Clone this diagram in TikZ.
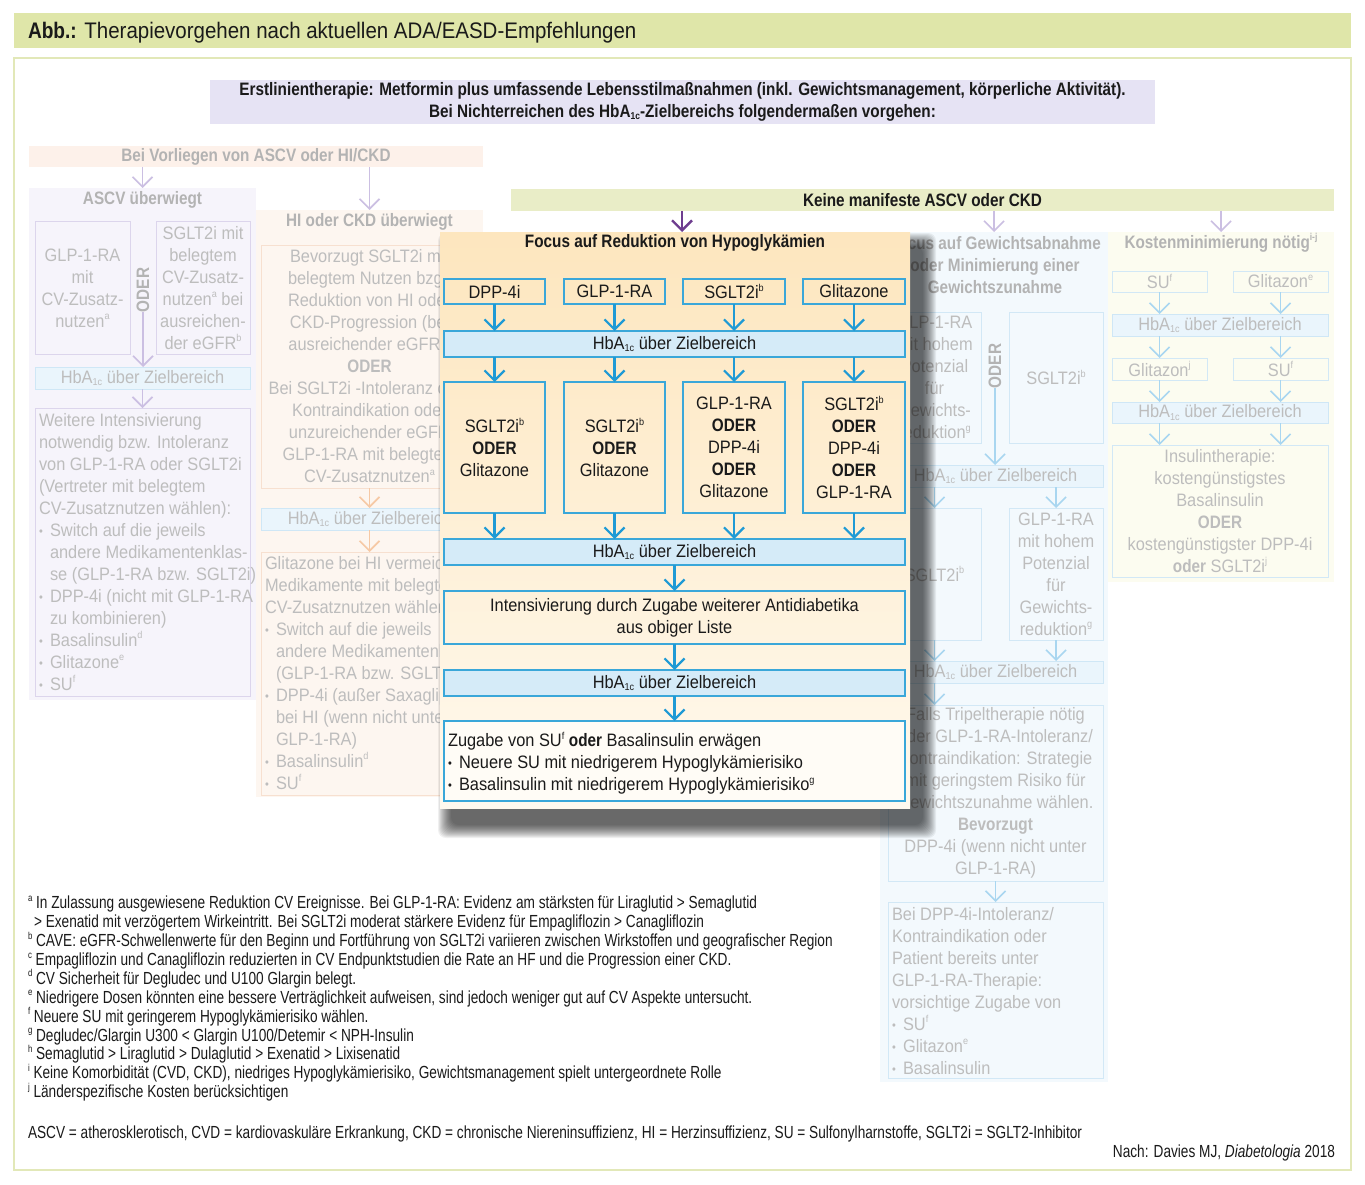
\documentclass[tikz,border=0pt]{standalone}
\usepackage{fontspec}
\setmainfont{Liberation Sans}[UprightFeatures={FakeStretch=0.91}, BoldFeatures={FakeStretch=0.85}, ItalicFeatures={FakeStretch=0.91}, BoldItalicFeatures={FakeStretch=0.85}]
\newfontfamily\fnfont{Liberation Sans}[UprightFeatures={FakeStretch=0.78}, ItalicFeatures={FakeStretch=0.78}]
\usetikzlibrary{arrows.meta}
\definecolor{titlebarc}{HTML}{DFE6A9}
\definecolor{framec}{HTML}{E2E8B8}
\definecolor{erstc}{HTML}{E6E3F4}
\definecolor{vorlc}{HTML}{FDF1EA}
\definecolor{keinec}{HTML}{E9EDC7}
\definecolor{ascvc}{HTML}{F6F4FB}
\definecolor{ascvl}{HTML}{DCD5EC}
\definecolor{ascva}{HTML}{CBBFE2}
\definecolor{hic}{HTML}{FDF6F0}
\definecolor{hil}{HTML}{F7E0D0}
\definecolor{hia}{HTML}{F6C9A5}
\definecolor{focc}{HTML}{F3F9FD}
\definecolor{focl}{HTML}{D2E8F6}
\definecolor{foca}{HTML}{A9D6F0}
\definecolor{kosc}{HTML}{FCFCF0}
\definecolor{hbfc}{HTML}{EAF5FC}
\definecolor{hbfl}{HTML}{CFE7F6}
\definecolor{fadet}{HTML}{BDBDBD}
\definecolor{fadeb}{HTML}{B3B3B3}
\definecolor{bluel}{HTML}{3AA7D9}
\definecolor{bluea}{HTML}{1F9AD5}
\definecolor{hbc}{HTML}{D5EBF8}
\definecolor{purp}{HTML}{6E3D8F}
\definecolor{centop}{HTML}{FDE6BE}
\definecolor{cenbot}{HTML}{FFF9EE}
\definecolor{zugc}{HTML}{FFFCF6}
\definecolor{txt}{HTML}{1A1A1A}
\newcommand\supx[1]{\raisebox{0.42em}{\fontsize{10}{10}\selectfont #1}}
\newcommand\subx[1]{\raisebox{-0.12em}{\fontsize{10}{10}\selectfont #1}}
\newcommand\hba{HbA\subx{1c} über Zielbereich}
\newcommand\bul{\makebox[11pt][l]{\raisebox{1pt}{\fontsize{12}{12}\selectfont\textbullet}}}
\newcommand\ind{\hspace*{11pt}}
\newcommand\rbox[7]{\node[#6, minimum width={(#4-#2)*1pt}, minimum height={(#5-#3)*1pt}] (#1) at ({(#2+#4)/2},{(#3+#5)/2}) {#7};}
\tikzset{
  every node/.style={inner sep=0pt, outer sep=0pt},
  fs/.style={font=\fontsize{18}{22}\selectfont},
  fsb/.style={font=\fontsize{18}{22}\selectfont\bfseries},
  fade/.style={fs, text=fadet},
  fadebold/.style={fsb, text=fadeb},
  fadebox/.style={draw=#1, line width=1pt, fade, align=center},
  hbfade/.style={fill=hbfc, draw=hbfl, line width=1pt, fade},
  cbox/.style={draw=bluel, line width=1.4pt, fs, text=txt, align=center},
  chb/.style={cbox, fill=hbc},
  barr/.style={draw=bluea, line width=2.2pt, -{Straight Barb[length=10pt,width=20pt,line width=2.2pt]}},
  farr/.style={draw=#1, line width=1.6pt, -{Straight Barb[length=10pt,width=20pt,line width=1.6pt]}},
  parr/.style={draw=purp, line width=2.4pt, -{Straight Barb[length=10pt,width=20pt,line width=2.4pt]}},
  fn/.style={font=\fnfont\fontsize{17.5}{18.9}\selectfont, text=txt},
}
\begin{document}
\begin{tikzpicture}[x=1pt, y=-1pt]
\useasboundingbox (0,0) rectangle (1365,1185);
\fill[white] (0,0) rectangle (1365,1185);
% title
\rbox{titlebar}{14}{13}{1351}{48}{fill=titlebarc}{}
\node[anchor=base west, font=\fontsize{22.5}{26}\selectfont, text=txt] (title) at (28,39) {\textbf{Abb.:} Therapievorgehen nach aktuellen ADA/EASD-Empfehlungen};
\rbox{frame}{14}{58}{1351}{1170}{draw=framec, line width=1.2pt}{}
% first line
\rbox{erst}{210}{80}{1155}{124}{fill=erstc, fsb, text=txt, align=center}{Erstlinientherapie: Metformin plus umfassende Lebensstilmaßnahmen (inkl. Gewichtsmanagement, körperliche Aktivität).\\Bei Nichterreichen des HbA\subx{1c}-Zielbereichs folgendermaßen vorgehen:}
% left: ASCV/HI
\rbox{vorl}{29}{146}{483}{167}{fill=vorlc, fadebold}{Bei Vorliegen von ASCV oder HI/CKD}
\rbox{ascv}{29}{188}{256}{700}{fill=ascvc}{}
\node[fadebold] (ascvt) at (142.5,200) {ASCV überwiegt};
\rbox{ascvA}{35}{222}{130}{354}{fadebox=ascvl}{GLP-1-RA\\mit\\CV-Zusatz-\\nutzen\supx{a}}
\rbox{ascvB}{156}{222}{250}{354}{fadebox=ascvl}{SGLT2i mit\\belegtem\\CV-Zusatz-\\nutzen\supx{a} bei\\ausreichen-\\der eGFR\supx{b}}
\node[fadebold, rotate=90] (ascvoder) at (143,290) {ODER};
\rbox{ascvhb}{35}{367}{250}{389}{hbfade}{\hba}
\rbox{ascvW}{35}{408}{250}{696}{fadebox=ascvl}{}
\node[fade, anchor=north west, align=left] (ascvWt) at (39,413) {Weitere Intensivierung\\notwendig bzw. Intoleranz\\von GLP-1-RA oder SGLT2i\\(Vertreter mit belegtem\\CV-Zusatznutzen wählen):\\\bul Switch auf die jeweils\\\ind andere Medikamentenklas-\\\ind se (GLP-1-RA bzw. SGLT2i)\\\bul DPP-4i (nicht mit GLP-1-RA\\\ind zu kombinieren)\\\bul Basalinsulin\supx{d}\\\bul Glitazone\supx{e}\\\bul SU\supx{f}};
\draw[farr=ascva] (vorl.south -| ascv.north) -- (ascv.north);
\draw[farr=ascva] (ascvoder.west) -- (ascvoder.west |- ascvhb.north);
\draw[farr=ascva] (ascvhb.south) -- (ascvW.north);
\rbox{hi}{256}{210}{483}{797}{fill=hic}{}
\node[fadebold] (hit) at (369.5,222) {HI oder CKD überwiegt};
\rbox{hiA}{261}{245}{478}{488}{fadebox=hil}{Bevorzugt SGLT2i mit\\belegtem Nutzen bzgl.\\Reduktion von HI oder\\CKD-Progression (bei\\ausreichender eGFR)\supx{c}\\\textbf{ODER}\\Bei SGLT2i -Intoleranz oder\\Kontraindikation oder\\unzureichender eGFR\\GLP-1-RA mit belegtem\\CV-Zusatznutzen\supx{a}}
\rbox{hihb}{261}{508}{478}{530}{hbfade}{\hba}
\rbox{hiB}{261}{552}{478}{795}{fadebox=hil}{}
\node[fade, anchor=north west, align=left] (hiBt) at (265,556) {Glitazone bei HI vermeiden.\\Medikamente mit belegtem\\CV-Zusatznutzen wählen:\\\bul Switch auf die jeweils\\\ind andere Medikamentenklasse\\\ind (GLP-1-RA bzw. SGLT2i)\\\bul DPP-4i (außer Saxagliptin)\\\ind bei HI (wenn nicht unter\\\ind GLP-1-RA)\\\bul Basalinsulin\supx{d}\\\bul SU\supx{f}};
\draw[farr=ascva] (vorl.south -| hi.north) -- (hi.north);
\draw[farr=hia] (hiA.south) -- (hihb.north);
\draw[farr=hia] (hihb.south) -- (hiB.north);
% right: keine
\rbox{keine}{511}{189}{1334}{211}{fill=keinec, fsb, text=txt}{Keine manifeste ASCV oder CKD}
\rbox{foc}{880}{232}{1108}{1082}{fill=focc}{}
\node[fadebold, align=center] (foct) at (995,265) {Focus auf Gewichtsabnahme\\oder Minimierung einer\\Gewichtszunahme};
\rbox{focA}{888}{312}{981}{443}{fadebox=focl}{GLP-1-RA\\mit hohem\\Potenzial\\für\\Gewichts-\\reduktion\supx{g}}
\rbox{focB}{1009}{312}{1103}{443}{fadebox=focl}{SGLT2i\supx{b}}
\node[fadebold, rotate=90] (focoder) at (995,366) {ODER};
\rbox{fochb1}{888}{465}{1103}{487}{hbfade}{\hba}
\rbox{focC}{888}{508}{981}{640}{fadebox=focl}{SGLT2i\supx{b}}
\rbox{focD}{1009}{508}{1103}{640}{fadebox=focl}{GLP-1-RA\\mit hohem\\Potenzial\\für\\Gewichts-\\reduktion\supx{g}}
\rbox{fochb2}{888}{661}{1103}{683}{hbfade}{\hba}
\rbox{focE}{888}{705}{1103}{881}{fadebox=focl}{Falls Tripeltherapie nötig\\oder GLP-1-RA-Intoleranz/\\Kontraindikation: Strategie\\mit geringstem Risiko für\\Gewichtszunahme wählen.\\\textbf{Bevorzugt}\\DPP-4i (wenn nicht unter\\GLP-1-RA)}
\rbox{focF}{888}{902}{1103}{1078}{fadebox=focl}{}
\node[fade, anchor=north west, align=left] (focFt) at (892,907) {Bei DPP-4i-Intoleranz/\\Kontraindikation oder\\Patient bereits unter\\GLP-1-RA-Therapie:\\vorsichtige Zugabe von\\\bul SU\supx{f}\\\bul Glitazon\supx{e}\\\bul Basalinsulin};
\draw[farr=ascva] (keine.south -| foc.north) -- (foc.north);
\draw[farr=foca] (focoder.west) -- (focoder.west |- fochb1.north);
\draw[farr=foca] (focC.north |- fochb1.south) -- (focC.north);
\draw[farr=foca] (focD.north |- fochb1.south) -- (focD.north);
\draw[farr=foca] (focC.south) -- (focC.south |- fochb2.north);
\draw[farr=foca] (focD.south) -- (focD.south |- fochb2.north);
\draw[farr=foca] (focC.south |- fochb2.south) -- (focC.south |- focE.north);
\draw[farr=foca] (focE.south) -- (focF.north);
% Kosten
\rbox{kos}{1108}{232}{1334}{582}{fill=kosc}{}
\node[fadebold] (kost) at (1221,243) {Kostenminimierung nötig\supx{i-j}};
\rbox{kosA}{1112}{271}{1207}{292}{fadebox=focl}{SU\supx{f}}
\rbox{kosB}{1233}{271}{1328}{292}{fadebox=focl}{Glitazon\supx{e}}
\rbox{koshb1}{1112}{314}{1328}{336}{hbfade}{\hba}
\rbox{kosC}{1112}{358}{1207}{380}{fadebox=focl}{Glitazon\supx{j}}
\rbox{kosD}{1233}{358}{1328}{380}{fadebox=focl}{SU\supx{f}}
\rbox{koshb2}{1112}{402}{1328}{423}{hbfade}{\hba}
\rbox{kosE}{1112}{445}{1328}{577}{fadebox=focl}{Insulintherapie:\\kostengünstigstes\\Basalinsulin\\\textbf{ODER}\\kostengünstigster DPP-4i\\\textbf{oder} SGLT2i\supx{j}}
\draw[farr=ascva] (keine.south -| kos.north) -- (kos.north);
\draw[farr=foca] (kosA.south) -- (kosA.south |- koshb1.north);
\draw[farr=foca] (kosB.south) -- (kosB.south |- koshb1.north);
\draw[farr=foca] (kosC.north |- koshb1.south) -- (kosC.north);
\draw[farr=foca] (kosD.north |- koshb1.south) -- (kosD.north);
\draw[farr=foca] (kosC.south) -- (kosC.south |- koshb2.north);
\draw[farr=foca] (kosD.south) -- (kosD.south |- koshb2.north);
\draw[farr=foca] (kosC.south |- koshb2.south) -- (kosC.south |- kosE.north);
\draw[farr=foca] (kosD.south |- koshb2.south) -- (kosD.south |- kosE.north);
% central box shadow
\foreach \k in {0,...,13} {
  \fill[black, opacity=0.06, rounded corners=8pt] ({438+\k},{233+\k}) rectangle ({936-\k},{838-\k});
}
\rbox{central}{440}{232}{910}{808}{top color=centop, bottom color=cenbot}{}
\node[fsb, text=txt] (cent) at (675,243) {Focus auf Reduktion von Hypoglykämien};
\rbox{c1}{444}{279}{545}{304}{cbox}{DPP-4i}
\rbox{c2}{564}{279}{665}{304}{cbox}{GLP-1-RA}
\rbox{c3}{683}{279}{785}{304}{cbox}{SGLT2i\supx{b}}
\rbox{c4}{803}{279}{905}{304}{cbox}{Glitazone}
\rbox{chb1}{444}{331}{905}{357}{chb}{\hba}
\rbox{r1}{444}{382}{545}{513}{cbox}{SGLT2i\supx{b}\\\textbf{ODER}\\Glitazone}
\rbox{r2}{564}{382}{665}{513}{cbox}{SGLT2i\supx{b}\\\textbf{ODER}\\Glitazone}
\rbox{r3}{683}{382}{785}{513}{cbox}{GLP-1-RA\\\textbf{ODER}\\DPP-4i\\\textbf{ODER}\\Glitazone}
\rbox{r4}{803}{382}{905}{513}{cbox}{SGLT2i\supx{b}\\\textbf{ODER}\\DPP-4i\\\textbf{ODER}\\GLP-1-RA}
\rbox{chb2}{444}{539}{905}{565}{chb}{\hba}
\rbox{cint}{444}{591}{905}{644}{cbox}{Intensivierung durch Zugabe weiterer Antidiabetika\\aus obiger Liste}
\rbox{chb3}{444}{670}{905}{696}{chb}{\hba}
\rbox{czug}{444}{721}{905}{801}{cbox, fill=zugc}{}
\node[fs, text=txt, anchor=north west, align=left] (czugt) at (448,732) {Zugabe von SU\supx{f} \textbf{oder} Basalinsulin erwägen\\\bul Neuere SU mit niedrigerem Hypoglykämierisiko\\\bul Basalinsulin mit niedrigerem Hypoglykämierisiko\supx{g}};
\draw[parr] ([xshift=7pt]central.north |- keine.south) -- ([xshift=7pt]central.north);
\foreach \n in {1,2,3,4} {
  \draw[barr] (c\n.south) -- (c\n.south |- chb1.north);
  \draw[barr] (r\n.north |- chb1.south) -- (r\n.north);
  \draw[barr] (r\n.south) -- (r\n.south |- chb2.north);
}
\draw[barr] (chb2.south) -- (cint.north);
\draw[barr] (cint.south) -- (chb3.north);
\draw[barr] (chb3.south) -- (czug.north);
% footnotes
\node[fn, anchor=north west, align=left] (fnotes) at (28,896) {\supx{a} In Zulassung ausgewiesene Reduktion CV Ereignisse. Bei GLP-1-RA: Evidenz am stärksten für Liraglutid > Semaglutid\\\hspace*{6pt}> Exenatid mit verzögertem Wirkeintritt. Bei SGLT2i moderat stärkere Evidenz für Empagliflozin > Canagliflozin\\\supx{b} CAVE: eGFR-Schwellenwerte für den Beginn und Fortführung von SGLT2i variieren zwischen Wirkstoffen und geografischer Region\\\supx{c} Empagliflozin und Canagliflozin reduzierten in CV Endpunktstudien die Rate an HF und die Progression einer CKD.\\\supx{d} CV Sicherheit für Degludec und U100 Glargin belegt.\\\supx{e} Niedrigere Dosen könnten eine bessere Verträglichkeit aufweisen, sind jedoch weniger gut auf CV Aspekte untersucht.\\\supx{f} Neuere SU mit geringerem Hypoglykämierisiko wählen.\\\supx{g} Degludec/Glargin U300 < Glargin U100/Detemir < NPH-Insulin\\\supx{h} Semaglutid > Liraglutid > Dulaglutid > Exenatid > Lixisenatid\\\supx{i} Keine Komorbidität (CVD, CKD), niedriges Hypoglykämierisiko, Gewichtsmanagement spielt untergeordnete Rolle\\\supx{j} Länderspezifische Kosten berücksichtigen};
\node[fn, anchor=base west] (abbr) at (28,1138) {ASCV = atherosklerotisch, CVD = kardiovaskuläre Erkrankung, CKD = chronische Niereninsuffizienz, HI = Herzinsuffizienz, SU = Sulfonylharnstoffe, SGLT2i = SGLT2-Inhibitor};
\node[fn, anchor=base east] (src) at (1335,1157) {Nach: Davies MJ, \textit{Diabetologia} 2018};
\end{tikzpicture}
\end{document}
